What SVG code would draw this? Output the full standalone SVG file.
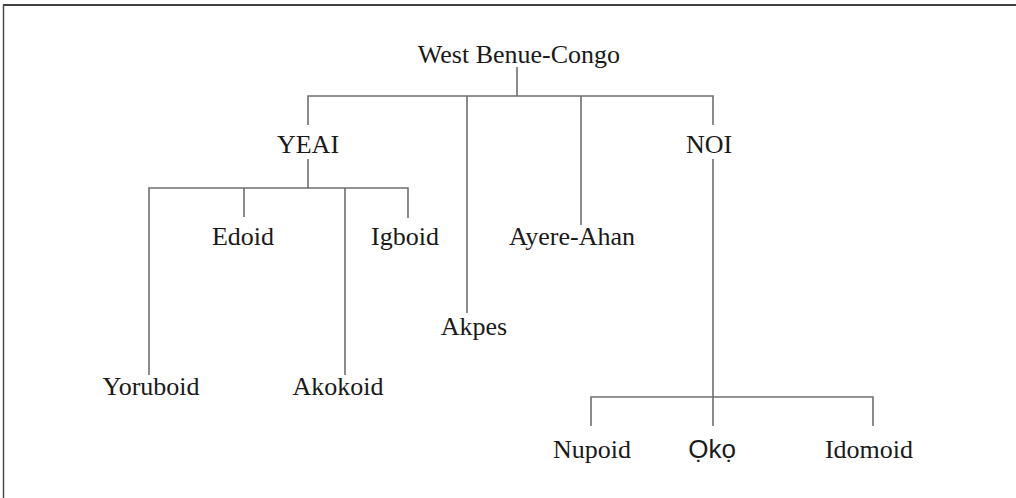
<svg xmlns="http://www.w3.org/2000/svg" width="1016" height="498" viewBox="0 0 1016 498">
<style>
.t{font-family:"Liberation Serif","Times New Roman",serif;font-size:26px;fill:#1a1a1a;text-anchor:middle}
.s{font-family:"Liberation Sans",Arial,sans-serif;font-size:26px;fill:#1a1a1a;text-anchor:middle}
.c line,.c path{stroke:#6e6e6e;stroke-width:1.6;fill:none}
</style>
<rect width="1016" height="498" fill="#fff"/>
<g id="frame">
<line x1="3" y1="5" x2="1016" y2="5" stroke="#000" stroke-width="1.6"/>
<line x1="3.5" y1="5" x2="3.5" y2="498" stroke="#444" stroke-width="1.4"/>
</g>
<g class="c" id="connectors">
<line x1="517" y1="67" x2="517" y2="96"/>
<path d="M308 125 V96 H713 V125"/>
<line x1="467" y1="96" x2="467" y2="313"/>
<line x1="581" y1="96" x2="581" y2="225"/>
<line x1="308" y1="159" x2="308" y2="188"/>
<path d="M149 375 V188 H408 V218"/>
<line x1="244" y1="188" x2="244" y2="217"/>
<line x1="345" y1="188" x2="345" y2="375"/>
<line x1="713" y1="159" x2="713" y2="426"/>
<path d="M591 426 V397 H873 V426"/>
</g>
<g id="n-wbc"><text class="t" x="519" y="63">West Benue-Congo</text></g>
<g id="n-yeai"><text class="t" x="308" y="153">YEAI</text></g>
<g id="n-noi"><text class="t" x="709" y="153">NOI</text></g>
<g id="n-edoid"><text class="t" x="243" y="245">Edoid</text></g>
<g id="n-igboid"><text class="t" x="405" y="245">Igboid</text></g>
<g id="n-ayere"><text class="t" x="572" y="245">Ayere-Ahan</text></g>
<g id="n-akpes"><text class="t" x="474" y="335">Akpes</text></g>
<g id="n-yoruboid"><text class="t" x="151" y="395">Yoruboid</text></g>
<g id="n-akokoid"><text class="t" x="338" y="395">Akokoid</text></g>
<g id="n-nupoid"><text class="t" x="592" y="458">Nupoid</text></g>
<g id="n-oko"><text class="s" x="712" y="458">Ọkọ</text></g>
<g id="n-idomoid"><text class="t" x="869" y="458">Idomoid</text></g>
</svg>
